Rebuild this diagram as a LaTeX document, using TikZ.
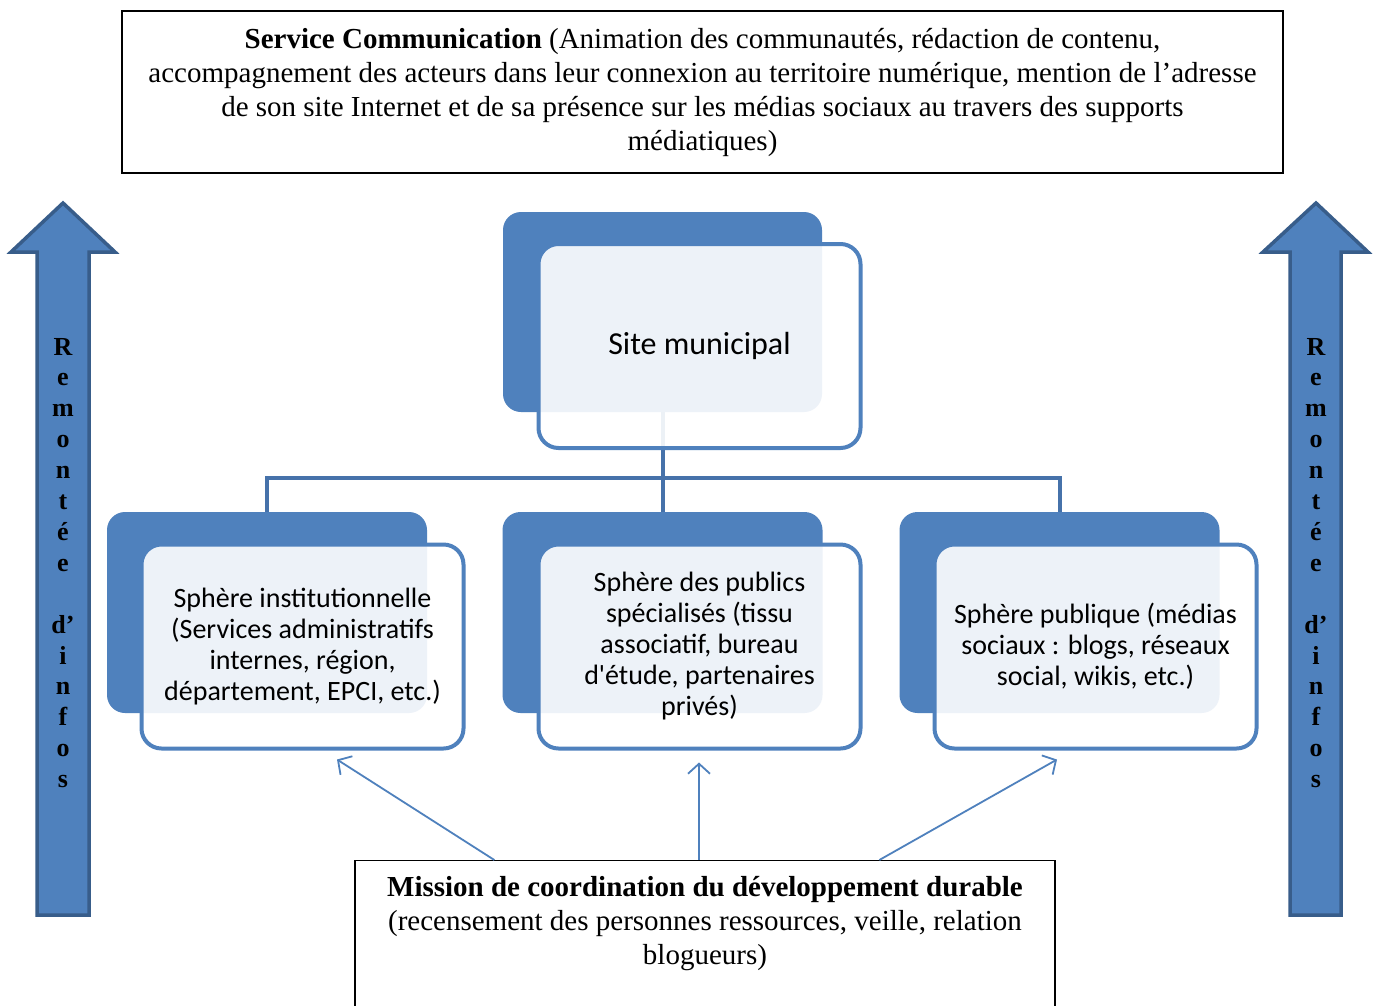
\documentclass[tikz,border=0pt]{standalone}
\usepackage{fontspec}
\setmainfont{Liberation Serif}
\newfontfamily\calfont{Carlito}
\usetikzlibrary{arrows.meta,calc}
\definecolor{accent}{HTML}{4F81BD}
\definecolor{accentdark}{HTML}{385D8A}
\definecolor{linkblue}{HTML}{4672AA}
\begin{document}
\begin{tikzpicture}[x=1pt,y=-1pt,
  backbox/.style={fill=accent, rounded corners=18pt, inner sep=0pt, minimum width=320pt, minimum height=201pt},
  frontbox/.style={draw=accent, line width=4pt, fill=white, fill opacity=0.9, text opacity=1, rounded corners=20pt, inner sep=0pt, align=center, minimum width=322pt, minimum height=204pt, font=\calfont\fontsize{28}{31}\selectfont},
  link/.style={draw=linkblue, line width=4pt},
  pointer/.style={draw=accent, line width=1.8pt, -{Straight Barb[length=10pt,width=22pt,line width=1.8pt]}},
  plainbox/.style={draw=black, line width=1.3pt, inner sep=0pt},
  bigarrow/.style={fill=accent, draw=accentdark, line width=3.5pt, line join=miter},
  vlabel/.style={anchor=base, inner sep=0pt, font=\fontsize{26}{26}\selectfont\bfseries}
]
\useasboundingbox (0,0) rectangle (1374,1005);
\fill[white] (0,0) rectangle (1374,1005);

% top box
\node[plainbox, minimum width=1161pt, minimum height=162pt, align=center,
  font=\fontsize{29}{34}\selectfont] (comm) at (702.5,92)
  {\textbf{Service Communication} (Animation des communautés, rédaction de contenu,\\
   accompagnement des acteurs dans leur connexion au territoire numérique, mention de l’adresse\\
   de son site Internet et de sa présence sur les médias sociaux au travers des supports\\
   médiatiques)};

% big side arrows
\draw[bigarrow] (37,915) -- (37,252) -- (11,252) -- (63,203) -- (115,252) -- (89,252) -- (89,915) -- cycle;
\draw[bigarrow] (1290,915) -- (1290,252) -- (1263,252) -- (1316,203) -- (1368,252) -- (1341,252) -- (1341,915) -- cycle;
\foreach \ch [count=\i from 0] in {R,e,m,o,n,t,é,e,{},d’,i,n,f,o,s}{
  \node[vlabel] (l\i) at (63,{355+30.9*\i}) {\ch};
  \node[vlabel] (r\i) at (1316,{355+30.9*\i}) {\ch};
}

% back boxes
\node[backbox, minimum width=319pt, minimum height=200pt] (siteback) at (662.5,312) {};
\node[backbox] (instback) at (267,612.5) {};
\node[backbox] (specback) at (662.5,612.5) {};
\node[backbox] (pubback) at (1059.5,612.5) {};

% connectors
\coordinate (bus) at (0,478);
\draw[link] (siteback.south) -- (siteback.south |- bus);
\draw[link] (siteback.south |- bus) -| (instback.north);
\draw[link] (siteback.south |- bus) -| (pubback.north);
\draw[link] (siteback.south |- bus) -- (specback.north);

% front boxes
\node[frontbox, font=\calfont\fontsize{32}{36}\selectfont] (site) at (699.5,346) {Site municipal};
\node[frontbox] (inst) at (302.5,646.5) {Sphère institutionnelle\\(Services administratifs\\internes, région,\\département, EPCI, etc.)};
\node[frontbox] (spec) at (699.5,646.5) {Sphère des publics\\spécialisés (tissu\\associatif, bureau\\d'étude, partenaires\\privés)};
\node[frontbox] (pub) at (1095.5,646.5) {Sphère publique (médias\\sociaux : blogs, réseaux\\social, wikis, etc.)};

% mission box
\node[plainbox, minimum width=700pt, minimum height=175pt, anchor=north] (mission) at (705,860) {};
\node[anchor=north, inner sep=0pt, align=center, font=\fontsize{29}{34}\selectfont] (missiontxt) at (705,876)
  {\textbf{Mission de coordination du développement durable}\\
   (recensement des personnes ressources, veille, relation\\
   blogueurs)};

% pointers
\draw[pointer] ($(mission.north west)+(140,0)$) -- ($(inst.south)+(34.5,9)$);
\draw[pointer] ($(mission.north)+(-6,0)$) -- ($(spec.south)+(-0.5,12)$);
\draw[pointer] ($(mission.north west)+(525,0)$) -- ($(pub.south)+(-38.5,9)$);
\end{tikzpicture}
\end{document}
